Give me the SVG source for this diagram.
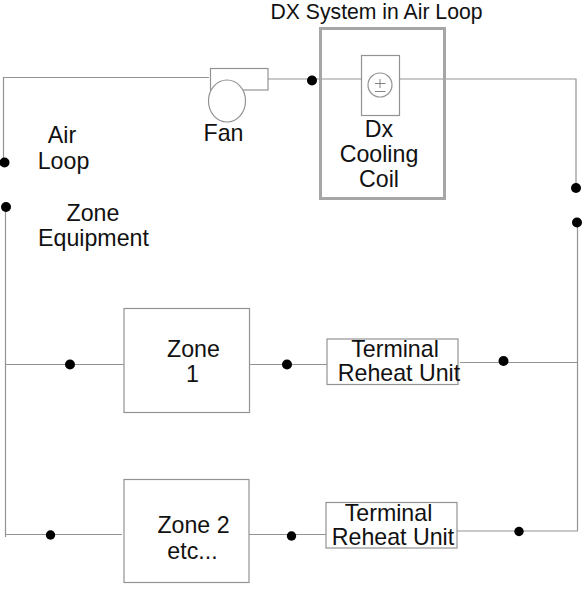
<svg xmlns="http://www.w3.org/2000/svg" width="583" height="600" viewBox="0 0 583 600">
<style>
text{font-family:"Liberation Sans",Arial,sans-serif;font-size:23.200px;fill:#111}
.c{text-anchor:middle}
.b{fill:#fff;stroke:#939393;stroke-width:1.2}
.w{fill:none;stroke:#939393;stroke-width:1.2}
.d{fill:#000;stroke:none}
</style>
<rect width="583" height="600" fill="#fff"/>
<g id="connectors">
<path class="w" d="M209 77.500H3.500V160"/>
<path class="w" d="M268 79H361M400 79H576V186"/>
<path class="w" d="M5.500 207V537M5.500 364.500H124M250 364.500H327M460 362.500H578M577.500 222V531M5.500 534.500H122M247 534.500H326M457 531H578"/>
<circle class="d" cx="312" cy="80.500" r="5"/>
<circle class="d" cx="4.500" cy="162.500" r="5"/>
<circle class="d" cx="6" cy="207" r="5"/>
<circle class="d" cx="576" cy="188" r="5"/>
<circle class="d" cx="577" cy="222.500" r="5"/>
<circle class="d" cx="70" cy="364.500" r="5"/>
<circle class="d" cx="287" cy="364.500" r="5"/>
<circle class="d" cx="503.500" cy="361" r="5"/>
<circle class="d" cx="50.500" cy="535" r="4.700"/>
<circle class="d" cx="291.500" cy="536" r="4.700"/>
<circle class="d" cx="519" cy="531.500" r="4.700"/>
</g>
<g id="dx-system">
<rect x="320.500" y="28.500" width="124" height="170" fill="none" stroke="#a6a6a6" stroke-width="3"/>
<text class="c" x="376.500" y="18.500" style="font-size:21.200px">DX System in Air Loop</text>
</g>
<g id="fan">
<rect class="b" x="210.500" y="68.500" width="57.500" height="21.500"/>
<ellipse class="b" cx="227" cy="101" rx="18.500" ry="21"/>
<text class="c" x="223.500" y="140.500">Fan</text>
</g>
<g id="cooling-coil">
<rect class="b" x="361.500" y="55.500" width="38" height="60"/>
<circle class="b" cx="380" cy="85" r="12"/>
<path d="M380 79V88M375 83.500H385.500M375 91.500H385.500" fill="none" stroke="#777" stroke-width="0.900"/>
<text class="c" x="379" y="136.500">Dx</text>
<text class="c" x="379" y="162">Cooling</text>
<text class="c" x="379" y="187">Coil</text>
</g>
<g id="air-loop">
<text class="c" x="62" y="143">Air</text>
<text class="c" x="63.500" y="168.500">Loop</text>
</g>
<g id="zone-equipment">
<text class="c" x="93" y="221">Zone</text>
<text class="c" x="93.500" y="246">Equipment</text>
</g>
<g id="zone-1">
<rect class="b" x="124" y="308.500" width="125.500" height="104"/>
<text class="c" x="193.500" y="356.500">Zone</text>
<text class="c" x="192.500" y="381.500">1</text>
</g>
<g id="terminal-1">
<rect class="b" x="327" y="339" width="131" height="45.500"/>
<text class="c" x="395" y="356.500">Terminal</text>
<text class="c" x="399" y="381">Reheat Unit</text>
</g>
<g id="zone-2">
<rect class="b" x="124" y="479.500" width="125" height="103"/>
<text class="c" x="193.500" y="533">Zone 2</text>
<text class="c" x="192.500" y="559">etc...</text>
</g>
<g id="terminal-2">
<rect class="b" x="326" y="502.500" width="131" height="45.500"/>
<text class="c" x="388.500" y="520.500">Terminal</text>
<text class="c" x="393" y="545">Reheat Unit</text>
</g>
</svg>
